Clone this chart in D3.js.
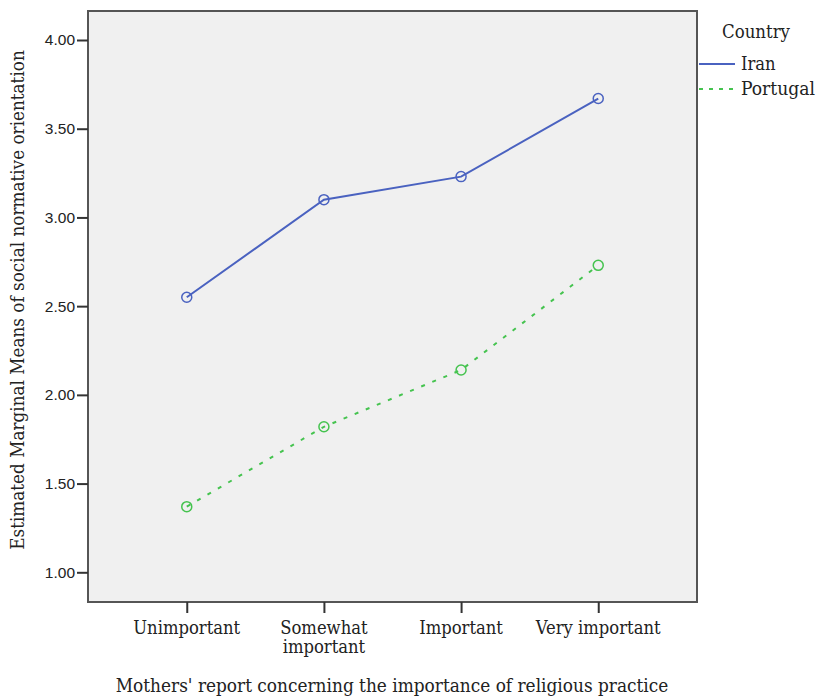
<!DOCTYPE html>
<html><head><meta charset="utf-8">
<script src="https://cdn.jsdelivr.net/npm/d3@7"></script>
<style>body{margin:0;background:#fff} text.s{font-stretch:condensed}</style>
</head><body>
<svg id="c" width="817" height="700"></svg>
<script>
const categories = ["Unimportant", "Somewhat important", "Important", "Very important"];
const categoryLines = [["Unimportant"], ["Somewhat", "important"], ["Important"], ["Very important"]];
const iran = [2.55, 3.10, 3.23, 3.67];
const portugal = [1.37, 1.82, 2.14, 2.73];
const yTicks = [1.0, 1.5, 2.0, 2.5, 3.0, 3.5, 4.0];

const svg = d3.select("#c");
const L = 88, R = 697, T = 11, B = 602;
const SERIF = "'DejaVu Serif Condensed', 'DejaVu Serif', serif";
const x = d3.scalePoint().domain(categories).range([L, R]).padding(0.72);
const y = d3.scaleLinear().domain([1, 4]).range([572.3, 40]);

function fit(sel, target) {
  const w = sel.node().getComputedTextLength();
  const fs = parseFloat(sel.attr("font-size"));
  sel.attr("font-size", fs * target / w);
}

svg.append("rect").attr("x", L).attr("y", T).attr("width", R - L).attr("height", B - T)
  .attr("fill", "#f0f0f0").attr("stroke", "#555").attr("stroke-width", 2);

// Y axis
const yAx = svg.append("g").attr("transform", `translate(${L},0)`)
  .call(d3.axisLeft(y).tickValues(yTicks).tickFormat(d3.format(".2f")).tickSize(11).tickPadding(2));
yAx.select(".domain").remove();
yAx.selectAll("line").attr("stroke", "#333").attr("stroke-width", 2);
yAx.selectAll("text").attr("font-family", "Liberation Sans, Arial, sans-serif").attr("font-size", 15.5).attr("fill", "#222");

// X axis
const xAx = svg.append("g").attr("transform", `translate(0,${B})`)
  .call(d3.axisBottom(x).tickSize(11).tickFormat(""));
xAx.select(".domain").remove();
xAx.selectAll("line").attr("stroke", "#333").attr("stroke-width", 2);

const probe = svg.append("text").attr("class", "s").attr("font-family", SERIF).attr("font-size", 16).text("Unimportant");
const serifSize = 16 * 107 / probe.node().getComputedTextLength();
probe.remove();

categories.forEach((c, i) => {
  const t = svg.append("text").attr("class", "s").attr("x", x(c)).attr("y", 634)
    .attr("text-anchor", "middle").attr("font-family", SERIF)
    .attr("font-size", serifSize).attr("fill", "#222");
  categoryLines[i].forEach((ln, j) => t.append("tspan").attr("x", x(c)).attr("dy", j ? 19 : 0).text(ln));
});

// Axis titles
const xt = svg.append("text").attr("class", "s").attr("x", 392).attr("y", 692).attr("text-anchor", "middle")
  .attr("font-family", SERIF).attr("font-size", 16).attr("fill", "#222")
  .text("Mothers' report concerning the importance of religious practice");
fit(xt, 553);
const yt = svg.append("text").attr("class", "s").attr("transform", "translate(24,300) rotate(-90)").attr("text-anchor", "middle")
  .attr("font-family", SERIF).attr("font-size", 16).attr("fill", "#222")
  .text("Estimated Marginal Means of social normative orientation");
fit(yt, 500);

// Series
const series = [
  {name: "Iran", vals: iran, color: "#4a62c0", dash: null},
  {name: "Portugal", vals: portugal, color: "#45c34f", dash: "4,8"}
];
const line = d3.line().x((d, i) => x(categories[i])).y(d => y(d));
series.forEach(s => {
  svg.append("path").datum(s.vals).attr("d", line).attr("fill", "none")
    .attr("stroke", s.color).attr("stroke-width", 2).attr("stroke-dasharray", s.dash);
  svg.selectAll(null).data(s.vals).enter().append("circle")
    .attr("cx", (d, i) => x(categories[i])).attr("cy", d => y(d)).attr("r", 5)
    .attr("fill", "none").attr("stroke", s.color).attr("stroke-width", 1.5);
});

// Legend
const ct = svg.append("text").attr("class", "s").attr("x", 722).attr("y", 38).attr("font-family", SERIF)
  .attr("font-size", 16).attr("fill", "#222").text("Country");
fit(ct, 68);
series.forEach((s, i) => {
  const ly = 64 + i * 25;
  svg.append("line").attr("x1", 699).attr("x2", 735).attr("y1", ly).attr("y2", ly)
    .attr("stroke", s.color).attr("stroke-width", 2).attr("stroke-dasharray", s.dash ? "4,6" : null);
  const lt = svg.append("text").attr("class", "s").attr("x", 741).attr("y", ly + 6).attr("font-family", SERIF)
    .attr("font-size", serifSize).attr("fill", "#222").text(s.name);
  if (s.name === "Portugal") fit(lt, 74);
});
</script>
</body></html>
